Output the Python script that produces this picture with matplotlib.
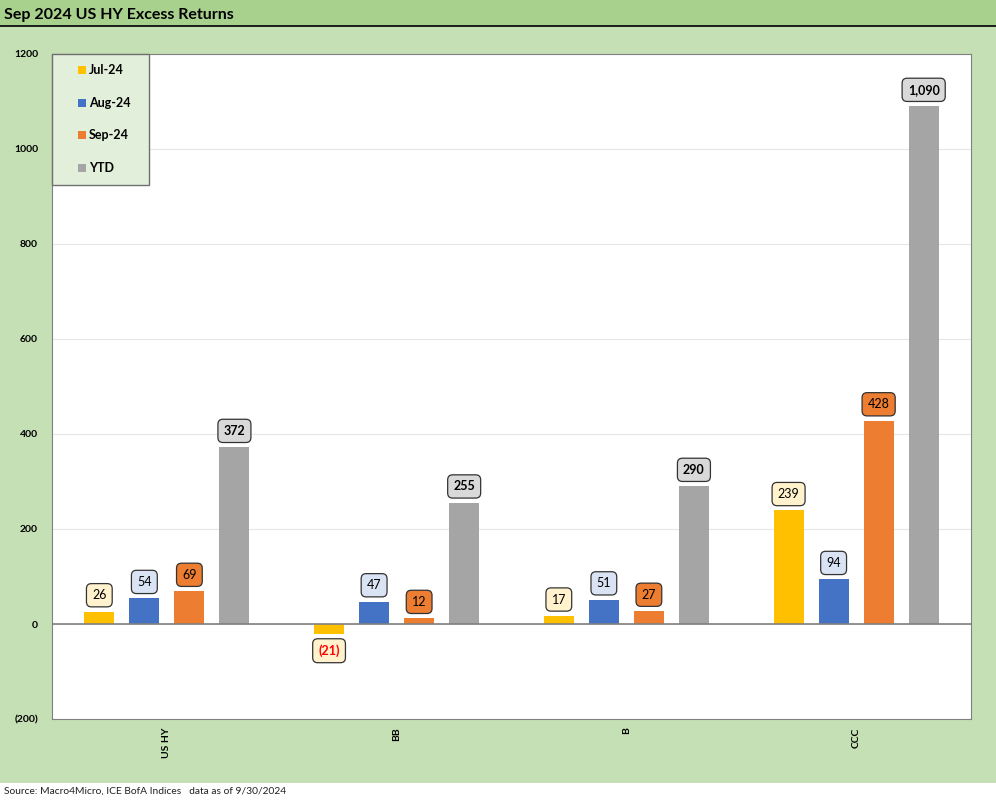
import numpy as np
import matplotlib.pyplot as plt
from matplotlib.patches import Rectangle

plt.rcParams['font.family'] = ['Lato', 'DejaVu Sans']

categories = ['US HY', 'BB', 'B', 'CCC']
series = ['Jul-24', 'Aug-24', 'Sep-24', 'YTD']
jul = [26, -21, 17, 239]
aug = [54, 47, 51, 94]
sep = [69, 12, 27, 428]
ytd = [372, 255, 290, 1090]
values = [jul, aug, sep, ytd]
yticks = [-200, 0, 200, 400, 600, 800, 1000, 1200]

colors = ['#ffc000', '#4472c4', '#ed7d31', '#a5a5a5']
boxcolors = ['#fff2cc', '#dae3f3', '#ed7d31', '#d9d9d9']

W, H = 996, 802
fig = plt.figure(figsize=(W/100, H/100), dpi=100)
fig.patch.set_facecolor('#c5e0b4')

# title band
fig.patches.append(Rectangle((0, 1-26/H), 1, 26/H, transform=fig.transFigure,
                             facecolor='#a9d18e', edgecolor='none', zorder=0))
fig.add_artist(plt.Line2D([0, 1], [1-26/H, 1-26/H], transform=fig.transFigure,
                          color='black', lw=1.2))
fig.text(4/W, 1-15/H, 'Sep 2024 US HY Excess Returns', fontsize=11.5,
         fontweight='bold', va='center', ha='left')
# footer band
fig.patches.append(Rectangle((0, 0), 1, 19/H, transform=fig.transFigure,
                             facecolor='white', edgecolor='none', zorder=0))
fig.text(4/W, 6/H, 'Source: Macro4Micro, ICE BofA Indices   data as of 9/30/2024',
         fontsize=7.4, va='bottom', ha='left', color='#222222')

ax = fig.add_axes([52/W, 1-719/H, (971-52)/W, (719-54)/H])
ax.set_facecolor('white')
ax.set_ylim(-200, 1200)
ax.set_xlim(-0.5, 3.5)
ax.set_yticks(yticks)
ax.set_yticklabels(['(200)' if t < 0 else str(t) for t in yticks],
                   fontsize=7.5, fontweight='bold')
ax.tick_params(axis='y', length=0, pad=10)
ax.grid(axis='y', color='#e6e6e6', lw=0.8)
ax.set_axisbelow(True)
ax.axhline(0, color='#808080', lw=1.2, zorder=3)
for s in ax.spines.values():
    s.set_color('#808080')
ax.set_xticks(range(len(categories)))
ax.set_xticklabels(categories, rotation=90, fontsize=7.5, fontweight='bold', va='top')
ax.tick_params(axis='x', length=0, pad=6)

x = np.arange(len(categories))
slot = 0.196
bw = 0.13
for i, (name, vals) in enumerate(zip(series, values)):
    pos = x + (i - 1.5) * slot
    ax.bar(pos, vals, width=bw, color=colors[i], label=name, zorder=2)
    for p, v in zip(pos, vals):
        if v < 0:
            txt = '({})'.format(abs(v))
            ax.annotate(txt, (p, v), xytext=(0, -7.5), textcoords='offset points',
                        ha='center', va='top', fontsize=9, fontweight='bold',
                        color='red',
                        bbox=dict(boxstyle='round,pad=0.45,rounding_size=0.4',
                                  fc=boxcolors[i], ec='#333333', lw=0.9))
        else:
            txt = '{:,}'.format(v)
            ax.annotate(txt, (p, v), xytext=(0, 7.5), textcoords='offset points',
                        ha='center', va='bottom', fontsize=9,
                        fontweight='bold' if i == 3 else 'normal',
                        color='black',
                        bbox=dict(boxstyle='round,pad=0.45,rounding_size=0.4',
                                  fc=boxcolors[i], ec='#333333', lw=0.9))

# legend box drawn by hand (pixel layout)
lx0, ly0, lx1, ly1 = 52, 54, 149, 185
fig.patches.append(Rectangle((lx0/W, 1-ly1/H), (lx1-lx0)/W, (ly1-ly0)/H,
                             transform=fig.transFigure, facecolor='#e2efda',
                             edgecolor='#707070', lw=1, zorder=5))
for i, name in enumerate(series):
    yc = 70 + i * 32.7
    fig.patches.append(Rectangle((78/W, 1-(yc+4)/H), 8/W, 8/H,
                                 transform=fig.transFigure, facecolor=colors[i],
                                 edgecolor='none', zorder=6))
    fig.text(89/W, 1-yc/H, name, fontsize=9, fontweight='bold',
             va='center', ha='left', zorder=7)

fig.savefig('out.png', dpi=100, facecolor=fig.get_facecolor())
